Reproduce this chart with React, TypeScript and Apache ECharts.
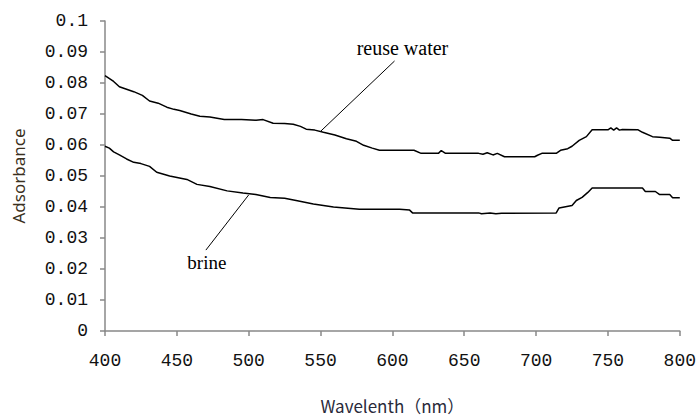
import React, { useEffect, useRef } from "react";
import * as echarts from "echarts";

const reuseWl = [400, 406, 410, 415, 420, 426, 431, 437, 443, 448, 452, 460, 466, 473, 483, 495, 505, 510, 517, 525, 531, 536, 540, 546, 552, 560, 568, 575, 580, 586, 591, 605, 615, 620, 632, 634, 637, 660, 663, 666, 670, 673, 678, 699, 701, 704, 714, 717, 722, 725, 730, 735, 739, 750, 752, 754, 756, 758, 760, 771, 774, 781, 786, 793, 795, 800];
const reuseAbs = [0.0824, 0.0805, 0.0788, 0.078, 0.0772, 0.076, 0.0742, 0.0735, 0.0722, 0.0715, 0.0711, 0.07, 0.0693, 0.069, 0.0682, 0.0682, 0.068, 0.0682, 0.067, 0.0669, 0.0667, 0.066, 0.0651, 0.0648, 0.0641, 0.0632, 0.062, 0.0612, 0.0599, 0.059, 0.0583, 0.0583, 0.0583, 0.0573, 0.0573, 0.0582, 0.0573, 0.0573, 0.057, 0.0575, 0.0568, 0.0573, 0.0562, 0.0562, 0.0567, 0.0573, 0.0573, 0.0583, 0.0588, 0.0596, 0.0615, 0.0627, 0.0649, 0.0649, 0.0655, 0.0648, 0.0655, 0.0648, 0.065, 0.0649, 0.0641, 0.0627, 0.0625, 0.0622, 0.0615, 0.0615];

const brineWl = [400, 403, 406, 410, 415, 420, 425, 431, 436, 445, 457, 464, 473, 485, 496, 505, 515, 525, 533, 545, 559, 577, 605, 612, 614, 660, 662, 668, 672, 676, 714, 716, 725, 728, 732, 736, 739, 774, 776, 783, 786, 793, 795, 800];
const brineAbs = [0.0596, 0.059, 0.0578, 0.0568, 0.0555, 0.0544, 0.054, 0.0531, 0.0512, 0.05, 0.0489, 0.0473, 0.0466, 0.0452, 0.0445, 0.044, 0.0431, 0.0428, 0.0421, 0.041, 0.04, 0.0393, 0.0393, 0.039, 0.0381, 0.0381, 0.0378, 0.0381, 0.0378, 0.038, 0.0381, 0.0397, 0.0405, 0.0421, 0.0431, 0.0447, 0.0461, 0.0461, 0.045, 0.045, 0.044, 0.044, 0.043, 0.043];

const seriesNames = ["reuse water", "brine"];
// annotation anchors in data space: [label center, leader start, leader end on curve]
const reuseNote = { label: [607, 0.0914], from: [601.5, 0.0871], to: [550, 0.0644], size: 20 };
const brineNote = { label: [470.9, 0.022], from: [470.2, 0.0261], to: [500, 0.0439], size: 19 };

export default function App() {
  const ref = useRef<HTMLDivElement>(null);
  useEffect(() => {
    if (!ref.current) return;
    const chart = echarts.init(ref.current, null, { renderer: "svg" });
    const tickFont = { fontFamily: "Liberation Mono", fontSize: 18, color: "#111" };
    chart.setOption({
      animation: false,
      backgroundColor: "#fff",
      grid: { left: 105, right: 18, top: 21, bottom: 80 },
      xAxis: {
        type: "value",
        min: 400,
        max: 800,
        interval: 50,
        name: "Wavelenth（nm）",
        nameLocation: "middle",
        nameGap: 66,
        nameTextStyle: { fontFamily: "Noto Sans CJK SC", fontSize: 17, color: "#2a2a3a" },
        axisLine: { lineStyle: { color: "#888", width: 1.5 } },
        axisTick: { show: true, length: 5, lineStyle: { color: "#888", width: 1.5 } },
        axisLabel: { ...tickFont, margin: 21 },
        splitLine: { show: false },
      },
      yAxis: {
        type: "value",
        min: 0,
        max: 0.1,
        interval: 0.01,
        name: "Adsorbance",
        nameLocation: "middle",
        nameGap: 78,
        nameTextStyle: { fontFamily: "Noto Sans", fontSize: 17, color: "#3a3020" },
        axisLine: { show: true, lineStyle: { color: "#888", width: 1.5 } },
        axisTick: { show: true, length: 5, lineStyle: { color: "#888", width: 1.5 } },
        axisLabel: {
          ...tickFont,
          margin: 17,
          formatter: (v: number) => (v === 0 ? "0" : String(+v.toFixed(2))),
        },
        splitLine: { show: false },
      },
      series: [
        {
          name: seriesNames[0],
          type: "line",
          showSymbol: false,
          data: reuseWl.map((w, i) => [w, reuseAbs[i]]),
          lineStyle: { color: "#000", width: 1.5 },
        },
        {
          name: seriesNames[1],
          type: "line",
          showSymbol: false,
          data: brineWl.map((w, i) => [w, brineAbs[i]]),
          lineStyle: { color: "#000", width: 1.5 },
        },
      ],
    });
    const px = (p: number[]) => chart.convertToPixel({ gridIndex: 0 }, p) as number[];
    const notes = [
      { n: reuseNote, text: seriesNames[0] },
      { n: brineNote, text: seriesNames[1] },
    ];
    const graphic: any[] = [];
    notes.forEach(({ n, text }) => {
      const a = px(n.from);
      const b = px(n.to);
      const c = px(n.label);
      graphic.push({
        type: "line",
        shape: { x1: a[0], y1: a[1], x2: b[0], y2: b[1] },
        style: { stroke: "#000", lineWidth: 1 },
      });
      graphic.push({
        type: "text",
        x: c[0],
        y: c[1],
        style: {
          text,
          fontFamily: "Liberation Serif",
          fontSize: n.size,
          fill: "#000",
          textAlign: "center",
          textVerticalAlign: "middle",
        },
      });
    });
    chart.setOption({ graphic });
    return () => chart.dispose();
  }, []);
  return <div ref={ref} style={{ width: 699, height: 419, position: "absolute", left: 0, top: 0 }} />;
}
